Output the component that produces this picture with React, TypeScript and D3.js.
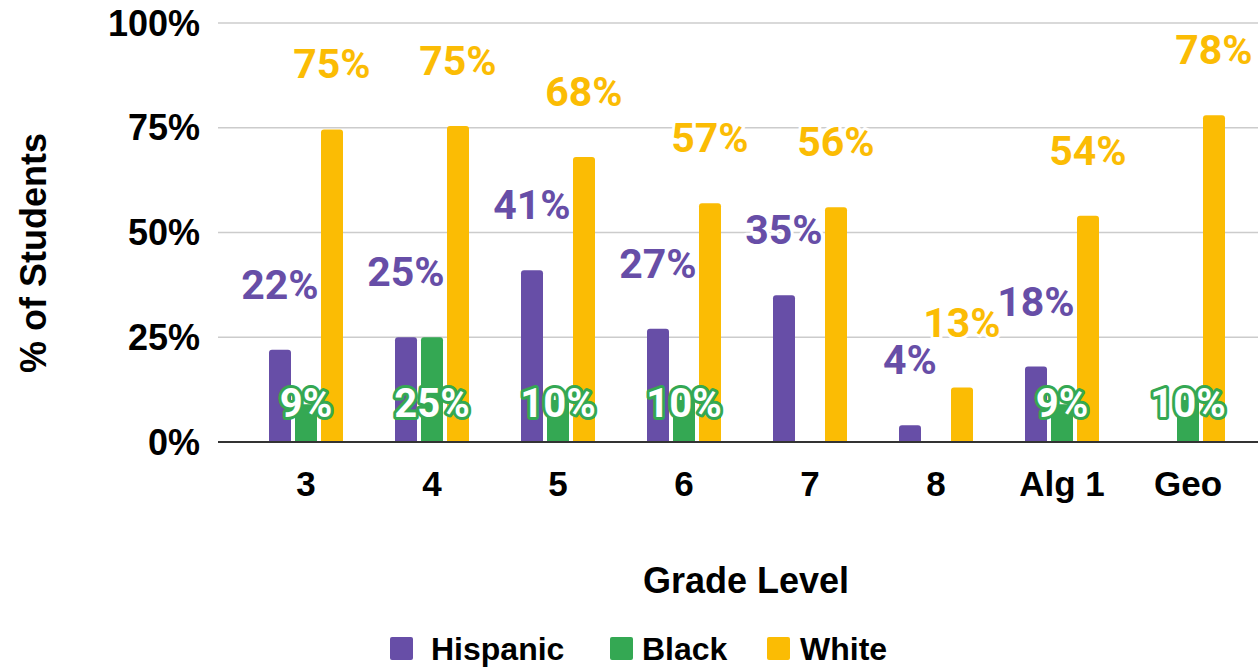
import React from "react";
import * as d3 from "d3";

const categories = ["3", "4", "5", "6", "7", "8", "Alg 1", "Geo"];
const seriesNames = ["Hispanic", "Black", "White"];
const hispanic: (number | null)[] = [22, 25, 41, 27, 35, 4, 18, null];
const black: (number | null)[] = [9, 25, 10, 10, null, null, 9, 10];
const white: (number | null)[] = [74.6, 75.4, 68, 57, 56, 13, 54, 78];
const yTicks = [0, 25, 50, 75, 100];
const colors = ["#674ea7", "#34a853", "#fbbc04"];

const W = 1258;
const H = 667;
const ARIAL = "'Liberation Sans', Arial, sans-serif";
const ROBOTO = "Roboto, 'Noto Sans', sans-serif";

export default function App() {
  const seriesValues = [hispanic, black, white];
  const x = d3.scaleBand<string>().domain(categories).range([243, 1251]).paddingInner(0).paddingOuter(0);
  const groupW = 74;
  const xi = d3.scaleBand<string>().domain(seriesNames).range([0, groupW]).paddingInner(0.154).paddingOuter(0);
  const y = d3.scaleLinear().domain([0, 100]).range([442, 23]);
  const fmt = (v: number) => `${Math.round(v)}%`;

  const barPath = (x0: number, w: number, y0: number, y1: number, r: number) => {
    const rr = Math.min(r, (y1 - y0) / 2, w / 2);
    return `M${x0},${y1}V${y0 + rr}Q${x0},${y0} ${x0 + rr},${y0}H${x0 + w - rr}Q${x0 + w},${y0} ${x0 + w},${y0 + rr}V${y1}Z`;
  };

  const bars: React.ReactNode[] = [];
  const labels: React.ReactNode[] = [];
  categories.forEach((c, ci) => {
    const gx = (x(c) as number) + (x.bandwidth() - groupW) / 2;
    seriesNames.forEach((s, si) => {
      const v = seriesValues[si][ci];
      if (v == null) return;
      const bx = gx + (xi(s) as number);
      const bw = xi.bandwidth();
      const top = y(v);
      bars.push(<path key={`b-${c}-${s}`} d={barPath(bx, bw, top, y(0), 3)} fill={colors[si]} />);
      const cx = bx + bw / 2;
      if (si === 1) {
        labels.push(
          <text key={`l-${c}-${s}`} x={cx} y={417} textAnchor="middle" fontFamily={ROBOTO} fontWeight={700} fontSize={40}
            fill="#ffffff" stroke={colors[1]} strokeWidth={6} strokeLinejoin="round" style={{ paintOrder: "stroke" }}>
            {fmt(v)}
          </text>
        );
      } else {
        labels.push(
          <text key={`l-${c}-${s}`} x={cx} y={top - 51} textAnchor="middle" fontFamily={ROBOTO} fontWeight={700} fontSize={41}
            fill={colors[si]} stroke="#ffffff" strokeWidth={6} strokeLinejoin="round" style={{ paintOrder: "stroke" }}>
            {fmt(v)}
          </text>
        );
      }
    });
  });

  const legendItems = [
    { name: "Hispanic", sx: 390, tx: 431 },
    { name: "Black", sx: 610, tx: 642 },
    { name: "White", sx: 767, tx: 800 },
  ];

  return (
    <svg width={W} height={H} style={{ position: "absolute", left: 0, top: 0, background: "#fff" }}>
      <rect x={0} y={0} width={W} height={H} fill="#fff" />
      {yTicks.map((t) => (
        <g key={`t-${t}`}>
          <line x1={218} x2={1258} y1={y(t)} y2={y(t)} stroke={t === 0 ? "#333333" : "#cccccc"} strokeWidth={t === 0 ? 2 : 1.5} />
          <text x={200} y={y(t)} dy="0.35em" textAnchor="end" fontFamily={ARIAL} fontWeight={700} fontSize={36} fill="#000">
            {`${t}%`}
          </text>
        </g>
      ))}
      {bars}
      <line x1={218} x2={1258} y1={y(0)} y2={y(0)} stroke="#333333" strokeWidth={2} />
      {labels}
      {categories.map((c) => (
        <text key={`c-${c}`} x={(x(c) as number) + x.bandwidth() / 2} y={496} textAnchor="middle" fontFamily={ARIAL} fontWeight={700} fontSize={35} fill="#000">
          {c}
        </text>
      ))}
      <text x={746} y={593} textAnchor="middle" fontFamily={ARIAL} fontWeight={700} fontSize={36} fill="#000">Grade Level</text>
      <text transform="translate(33,253) rotate(-90)" dy="0.35em" textAnchor="middle" fontFamily={ARIAL} fontWeight={700} fontSize={36} fill="#000">% of Students</text>
      {legendItems.map((it, i) => (
        <g key={`lg-${it.name}`}>
          <rect x={it.sx} y={637} width={23} height={23} rx={2} fill={colors[i]} />
          <text x={it.tx} y={660} fontFamily={ARIAL} fontWeight={700} fontSize={32} fill="#000">{it.name}</text>
        </g>
      ))}
    </svg>
  );
}
